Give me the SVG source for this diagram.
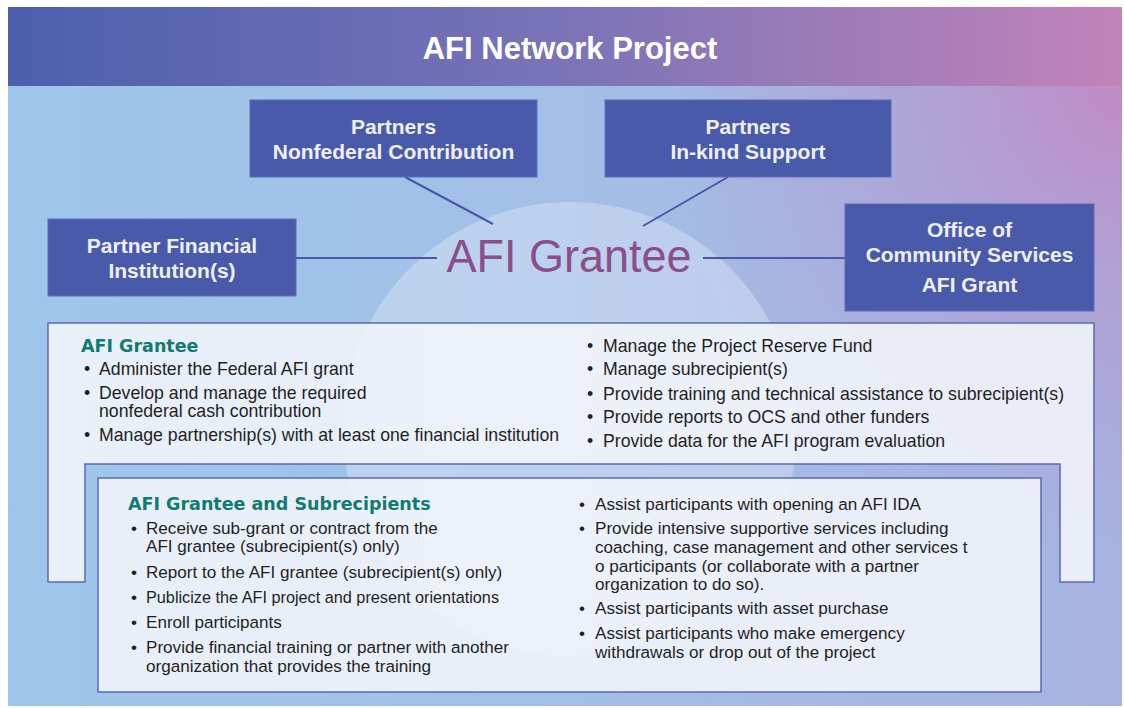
<svg xmlns="http://www.w3.org/2000/svg" width="1124" height="708" viewBox="0 0 1124 708">
  <defs>
    <linearGradient id="bandGrad" x1="0" y1="0" x2="1" y2="0">
      <stop offset="0" stop-color="#4b5fad"/>
      <stop offset="0.5" stop-color="#7a74b7"/>
      <stop offset="1" stop-color="#c283b9"/>
    </linearGradient>
    <linearGradient id="bodyGrad" x1="0" y1="0" x2="1" y2="0">
      <stop offset="0" stop-color="#9ec6eb"/>
      <stop offset="0.5" stop-color="#a3bfe6"/>
      <stop offset="1" stop-color="#a6b2e0"/>
    </linearGradient>
    <radialGradient id="pinkGlow" cx="1" cy="0" r="0.75" gradientTransform="translate(1 0) scale(0.55 1) translate(-1 0)">
      <stop offset="0" stop-color="#c18bc6" stop-opacity="1"/>
      <stop offset="0.5" stop-color="#b39bd0" stop-opacity="0.6"/>
      <stop offset="1" stop-color="#b39bd0" stop-opacity="0"/>
    </radialGradient>
    <clipPath id="bodyClip">
      <rect x="8" y="86" width="1114" height="620"/>
    </clipPath>
  </defs>
  <style>
    .box { fill: #4a5aab; stroke: #5d6dbb; stroke-width: 1; }
    .boxText { font-family: "Liberation Sans", Arial, sans-serif; font-weight: bold; font-size: 21px; fill: #eef0f8; text-anchor: middle; }
    .conn { stroke: #4858a8; stroke-width: 2; fill: none; }
    .panel { fill: #f1f4fb; fill-opacity: 0.9; stroke: #5a6ab5; stroke-width: 1.5; }
    .head { font-family: "DejaVu Sans", Verdana, sans-serif; font-weight: bold; font-size: 17.5px; fill: #127a70; }
    .item { font-family: "Liberation Sans", Arial, sans-serif; font-size: 17.7px; fill: #1f1f1f; }
    .itemSm { font-family: "Liberation Sans", Arial, sans-serif; font-size: 17.1px; fill: #1f1f1f; }
  </style>

  <rect width="1124" height="708" fill="#ffffff"/>

  <!-- body background -->
  <rect x="8" y="86" width="1114" height="620" fill="url(#bodyGrad)"/>
  <rect x="8" y="86" width="1114" height="620" fill="url(#pinkGlow)"/>
  <circle cx="570" cy="429" r="227" fill="#ffffff" fill-opacity="0.28" clip-path="url(#bodyClip)"/>

  <!-- title band -->
  <rect x="8" y="7" width="1114" height="79" fill="url(#bandGrad)"/>
  <text x="570" y="59" font-family="Liberation Sans, Arial, sans-serif" font-weight="bold" font-size="31" fill="#ffffff" text-anchor="middle">AFI Network Project</text>

  <!-- connectors -->
  <g id="connectors">
    <line class="conn" x1="405" y1="177" x2="493" y2="224"/>
    <line class="conn" x1="728" y1="177" x2="643" y2="226"/>
    <line class="conn" x1="296" y1="258" x2="437" y2="258"/>
    <line class="conn" x1="703" y1="258" x2="845" y2="258"/>
  </g>

  <g id="grantee">
    <text x="569" y="272" font-family="Liberation Sans, Arial, sans-serif" font-size="47" fill="#8a4f89" text-anchor="middle" textLength="245" lengthAdjust="spacingAndGlyphs">AFI Grantee</text>
  </g>

  <g id="nonfederal">
    <rect class="box" x="250" y="100" width="287" height="77"/>
    <text class="boxText" x="393.5" y="134">Partners</text>
    <text class="boxText" x="393.5" y="159">Nonfederal Contribution</text>
  </g>

  <g id="inkind">
    <rect class="box" x="605" y="100" width="286" height="77"/>
    <text class="boxText" x="748" y="134">Partners</text>
    <text class="boxText" x="748" y="159">In-kind Support</text>
  </g>

  <g id="financial">
    <rect class="box" x="48" y="219" width="248" height="77"/>
    <text class="boxText" x="172" y="253">Partner Financial</text>
    <text class="boxText" x="172" y="278">Institution(s)</text>
  </g>

  <g id="ocs">
    <rect class="box" x="845" y="204" width="249" height="107"/>
    <text class="boxText" x="969.5" y="237">Office of</text>
    <text class="boxText" x="969.5" y="262">Community Services</text>
    <text class="boxText" x="969.5" y="292">AFI Grant</text>
  </g>

  <!-- grantee responsibilities -->
  <g id="granteePanel">
    <path class="panel" d="M48,323 H1094 V582 H1060 V464 H85 V582 H48 Z"/>
    <text class="head" x="81" y="352">AFI Grantee</text>
    <g class="item">
      <text x="84" y="375">•</text>
      <text x="99" y="375">Administer the Federal AFI grant</text>
      <text x="84" y="399">•</text>
      <text x="99" y="399">Develop and manage the required</text>
      <text x="99" y="417">nonfederal cash contribution</text>
      <text x="84" y="441">•</text>
      <text x="99" y="441">Manage partnership(s) with at least one financial institution</text>

      <text x="587" y="352">•</text>
      <text x="603" y="352">Manage the Project Reserve Fund</text>
      <text x="587" y="375">•</text>
      <text x="603" y="375">Manage subrecipient(s)</text>
      <text x="587" y="400">•</text>
      <text x="603" y="400">Provide training and technical assistance to subrecipient(s)</text>
      <text x="587" y="423">•</text>
      <text x="603" y="423">Provide reports to OCS and other funders</text>
      <text x="587" y="447">•</text>
      <text x="603" y="447">Provide data for the AFI program evaluation</text>
    </g>
  </g>

  <!-- shared responsibilities -->
  <g id="subrecipientPanel">
    <rect class="panel" x="98" y="478" width="943" height="214"/>
    <text class="head" x="128" y="510">AFI Grantee and Subrecipients</text>
    <g class="itemSm">
      <text x="131" y="534">•</text>
      <text x="146" y="534">Receive sub-grant or contract from the</text>
      <text x="146" y="552">AFI grantee (subrecipient(s) only)</text>
      <text x="131" y="578">•</text>
      <text x="146" y="578">Report to the AFI grantee (subrecipient(s) only)</text>
      <text x="131" y="603">•</text>
      <text x="146" y="603" textLength="353" lengthAdjust="spacingAndGlyphs">Publicize the AFI project and present orientations</text>
      <text x="131" y="628">•</text>
      <text x="146" y="628">Enroll participants</text>
      <text x="131" y="653">•</text>
      <text x="146" y="653">Provide financial training or partner with another</text>
      <text x="146" y="672">organization that provides the training</text>

      <text x="579" y="510">•</text>
      <text x="595" y="510">Assist participants with opening an AFI IDA</text>
      <text x="579" y="534">•</text>
      <text x="595" y="534">Provide intensive supportive services including</text>
      <text x="595" y="553">coaching, case management and other services t</text>
      <text x="595" y="572">o participants (or collaborate with a partner</text>
      <text x="595" y="590">organization to do so).</text>
      <text x="579" y="614">•</text>
      <text x="595" y="614">Assist participants with asset purchase</text>
      <text x="579" y="639">•</text>
      <text x="595" y="639">Assist participants who make emergency</text>
      <text x="595" y="658">withdrawals or drop out of the project</text>
    </g>
  </g>
</svg>
